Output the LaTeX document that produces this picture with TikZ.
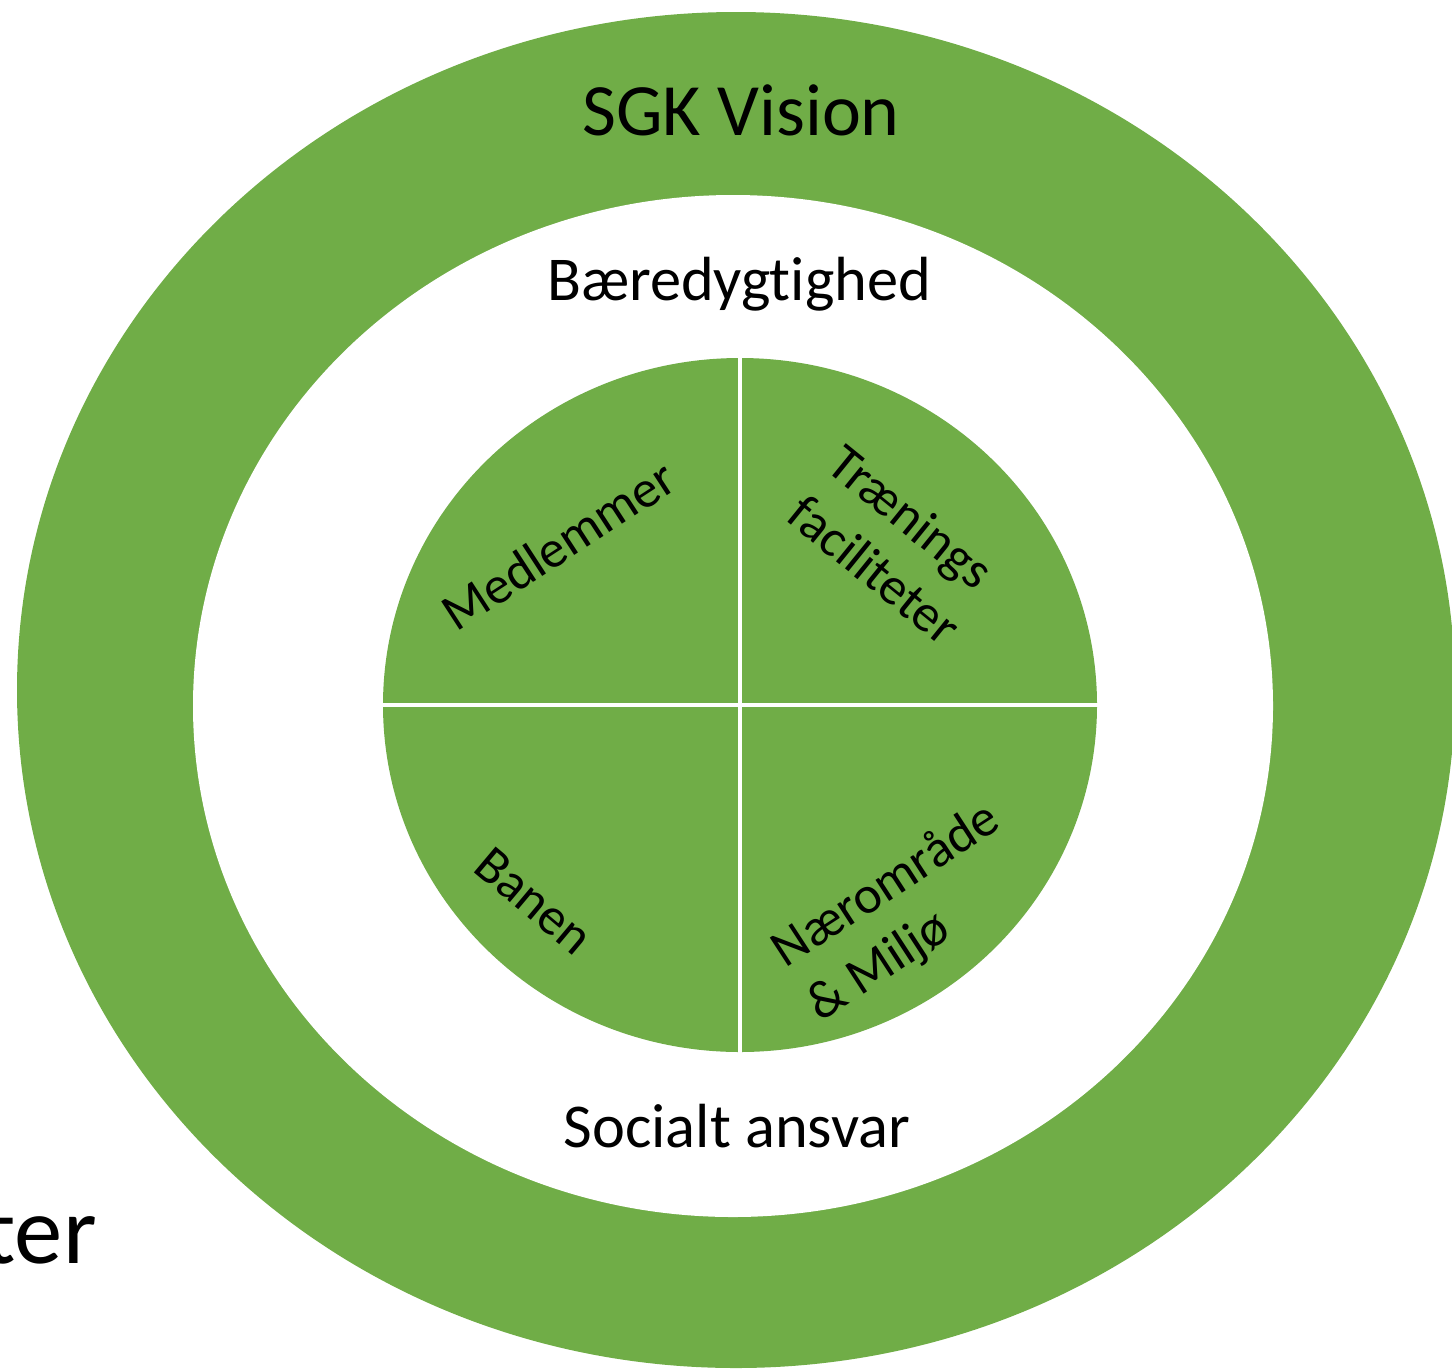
\documentclass[tikz,border=0pt]{standalone}
\usepackage{fontspec}
\setmainfont{Carlito}[Ligatures=NoCommon]
\definecolor{sgkgreen}{HTML}{70AD47}
\tikzset{
  ringlabel/.style={font=\fontsize{35.5}{40}\selectfont,inner sep=0pt,anchor=base},
  pielabel/.style={font=\fontsize{30}{36.5}\selectfont,align=left,inner sep=0pt}
}

\begin{document}
\begin{tikzpicture}[x=0.02cm,y=-0.02cm]
  % Configurable parameters (pixel units)
  \def\cx{740}
  \def\cy{705}
  \def\pierx{357}
  \def\piery{347}
  %
  % Canvas
  \useasboundingbox (0,0) rectangle (1452,1369);
  \clip (0,0) rectangle (1452,1369);
  %
  % Rings
  \fill[sgkgreen] (736,690) ellipse [x radius=719,y radius=678];
  \fill[white] (733,706) ellipse [x radius=540,y radius=511];
  \node[ringlabel,font=\fontsize{42}{48}\selectfont] (vision) at (741,135) {SGK Vision};
  \node[ringlabel] (baered) at (739,300) {Bæredygtighed};
  \node[ringlabel] (socialt) at (737,1147) {Socialt ansvar};
  %
  % Pie
  \fill[sgkgreen] (\cx,\cy) ellipse [x radius=\pierx,y radius=\piery];
  \draw[white,line width=2.3pt] (\cx,340) -- (\cx,1070);
  \draw[white,line width=2.3pt] (370,\cy) -- (1110,\cy);
  %
  % Pie labels
  \node[pielabel,rotate=33] (medlemmer) at (558,545) {Medlemmer};
  \node[pielabel,rotate=-39] (traening) at (895,545) {Trænings\\faciliteter};
  \node[pielabel,rotate=-40] (banen) at (534,901) {Banen};
  \node[pielabel,rotate=33] (naer) at (904,913) {Nærområde\\\& Miljø};
  %
  % Stray text
  \node[font=\fontsize{55}{60}\selectfont,inner sep=0pt,anchor=base east] (ter) at (97,1263) {ter};
  %
\end{tikzpicture}
\end{document}
